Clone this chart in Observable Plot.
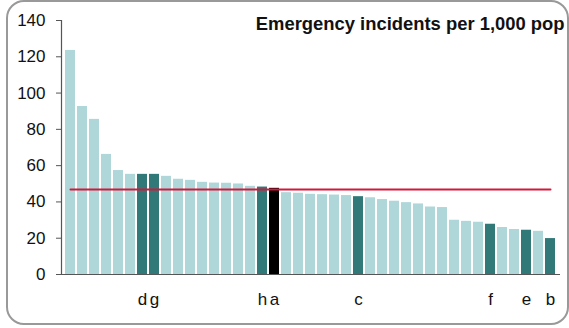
<!DOCTYPE html>
<html><head><meta charset="utf-8">
<script src="https://cdn.jsdelivr.net/npm/d3@7"></script>
<script src="https://cdn.jsdelivr.net/npm/@observablehq/plot@0.6"></script>
<style>
body{margin:0;background:#fff;}
#wrap{position:relative;width:569px;height:328px;overflow:hidden;}
#wrap svg{position:absolute;left:0;top:0;}
#box{position:absolute;left:6px;top:0;width:563px;height:325px;box-sizing:border-box;border:2px solid #999;border-radius:18px;pointer-events:none;}
</style></head><body>
<div id="wrap"><div id="box"></div></div>
<script>
const title = "Emergency incidents per 1,000 pop";
const values = [123.5, 92.6, 85.5, 66.2, 57.3, 55.2, 55.2, 55.2, 54.1, 52.5, 51.9, 50.8, 50.4, 50.3, 49.9, 48.6, 48.2, 47.5, 45.1, 44.8, 44.2, 44.0, 43.8, 43.5, 42.9, 42.3, 41.3, 40.4, 39.6, 38.9, 37.2, 36.9, 29.9, 29.3, 28.8, 27.7, 25.9, 24.8, 24.4, 23.8, 19.8];
const labels = ["","","","","","","d","g","","","","","","","","","h","a","","","","","","","c","","","","","","","","","","","f","","","e","","b"];
const groups = ["o","o","o","o","o","o","h","h","o","o","o","o","o","o","o","o","h","s","o","o","o","o","o","o","h","o","o","o","o","o","o","o","o","o","o","h","o","o","h","o","h"];
const average = 46.8;
const yTicks = [0, 20, 40, 60, 80, 100, 120, 140];

const idx = values.map((_, i) => i);
const data = idx.map(i => ({i, v: values[i], label: labels[i], g: groups[i]}));

const chart = Plot.plot({
  width: 569, height: 328,
  marginLeft: 61, marginRight: 9, marginTop: 20, marginBottom: 54,
  style: {fontFamily: "'Liberation Sans', Arial, sans-serif", color: "#111", background: "transparent"},
  x: {type: "band", domain: idx, paddingInner: 0.135, paddingOuter: 0.05, axis: null},
  y: {domain: [0, 140], axis: null},
  color: {domain: ["o", "h", "s"], range: ["#afd6d9", "#317878", "#000000"]},
  marks: [
    Plot.barY(data, {x: "i", y: "v", fill: "g"}),
    Plot.lineY(data, {x: "i", y: () => average, stroke: "#d2193c", strokeWidth: 2}),
    Plot.ruleY([0], {stroke: "#555", strokeWidth: 1.2}),
    Plot.frame({anchor: "left", stroke: "#555", strokeWidth: 1.2}),
    Plot.axisY({ticks: yTicks, tickSize: 5, tickPadding: 11, fontSize: 17, stroke: "#555", fill: "#111", label: null}),
    Plot.axisX({tickSize: 0, tickPadding: 18, fontSize: 17, fill: "#111", label: null, tickFormat: i => labels[i]}),
    Plot.text([title], {frameAnchor: "top-right", dx: 4, dy: -4, lineAnchor: "top", fontSize: 18.4, fontWeight: "bold", fill: "#111", textAnchor: "end"})
  ]
});
document.getElementById("wrap").prepend(chart);
</script>
</body></html>
